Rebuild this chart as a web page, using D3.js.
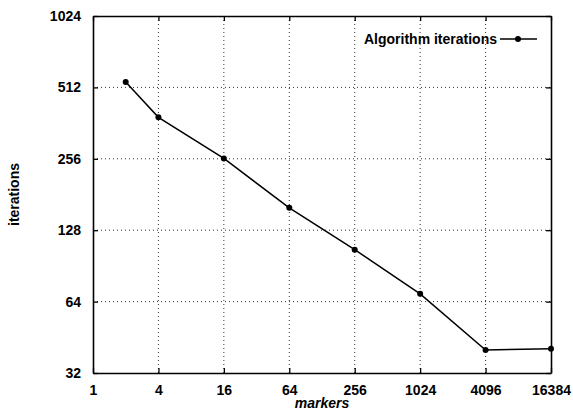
<!DOCTYPE html>
<html><head><meta charset="utf-8">
<script src="https://cdn.jsdelivr.net/npm/d3@7"></script>
<style>body{margin:0;background:#fff}svg{display:block}text{font-family:"Liberation Sans",Arial,sans-serif;fill:#000}</style>
</head><body>
<script>
const markers = [2, 4, 16, 64, 256, 1024, 4096, 16384];
const iterations = [540, 383, 257, 159, 106, 69, 40, 40.5];
const xTicks = [1, 4, 16, 64, 256, 1024, 4096, 16384];
const yTicks = [32, 64, 128, 256, 512, 1024];
const seriesName = "Algorithm iterations";

const W = 573, H = 411;
const m = {left: 93, right: 22, top: 16, bottom: 38};
const svg = d3.select("body").append("svg").attr("width", W).attr("height", H);
const x = d3.scaleLog().base(2).domain([1, 16384]).range([m.left, W - m.right]);
const y = d3.scaleLog().base(2).domain([32, 1024]).range([H - m.bottom, m.top]);
const pw = W - m.left - m.right, ph = H - m.top - m.bottom;

// grid
const g = svg.append("g");
g.selectAll(".gx").data(xTicks.slice(1, -1)).join("line")
  .attr("x1", d => x(d)).attr("x2", d => x(d)).attr("y1", m.top).attr("y2", H - m.bottom)
  .attr("stroke", "#333").attr("stroke-width", 1).attr("stroke-dasharray", "1,3");
g.selectAll(".gy").data(yTicks.slice(1, -1)).join("line")
  .attr("y1", d => y(d)).attr("y2", d => y(d)).attr("x1", m.left).attr("x2", W - m.right)
  .attr("stroke", "#333").attr("stroke-width", 1).attr("stroke-dasharray", "1,3");

// axes
const fmt = d => String(d);
const axBottom = svg.append("g").attr("transform", `translate(0,${H - m.bottom})`)
  .call(d3.axisBottom(x).tickValues(xTicks).tickFormat(fmt).tickSizeInner(-5).tickSizeOuter(0).tickPadding(15));
const axTop = svg.append("g").attr("transform", `translate(0,${m.top})`)
  .call(d3.axisTop(x).tickValues(xTicks).tickFormat("").tickSizeInner(-5).tickSizeOuter(0));
const axLeft = svg.append("g").attr("transform", `translate(${m.left},0)`)
  .call(d3.axisLeft(y).tickValues(yTicks).tickFormat(fmt).tickSizeInner(-5).tickSizeOuter(0).tickPadding(12));
const axRight = svg.append("g").attr("transform", `translate(${W - m.right},0)`)
  .call(d3.axisRight(y).tickValues(yTicks).tickFormat("").tickSizeInner(-5).tickSizeOuter(0));
[axBottom, axTop, axLeft, axRight].forEach(a => {
  a.select(".domain").attr("stroke", "#000").attr("stroke-width", 1.6);
  a.selectAll(".tick line").attr("stroke", "#000").attr("stroke-width", 1.3);
  a.selectAll("text").attr("font-size", 14).attr("font-weight", "bold").attr("fill", "#000");
});
axBottom.selectAll("text").attr("dy", "0.5em");

// axis titles
svg.append("text").attr("x", m.left + pw / 2).attr("y", 408).attr("text-anchor", "middle")
  .attr("font-size", 14).attr("font-weight", "bold").attr("font-style", "italic").text("markers");
svg.append("text").attr("transform", `translate(19,${m.top + ph / 2}) rotate(-90)`).attr("text-anchor", "middle")
  .attr("font-size", 14).attr("font-weight", "bold").text("iterations");

// series
const line = d3.line().x((d, i) => x(markers[i])).y(d => y(d));
svg.append("path").datum(iterations).attr("d", line).attr("fill", "none").attr("stroke", "#000").attr("stroke-width", 1.5);
svg.selectAll(".pt").data(iterations).join("circle")
  .attr("cx", (d, i) => x(markers[i])).attr("cy", d => y(d)).attr("r", 3).attr("fill", "#000");

// legend
svg.append("text").attr("x", 497).attr("y", 39).attr("dy", "0.35em").attr("text-anchor", "end")
  .attr("font-size", 14).attr("font-weight", "bold").text(seriesName);
svg.append("line").attr("x1", 500).attr("x2", 537).attr("y1", 39).attr("y2", 39).attr("stroke", "#000").attr("stroke-width", 1.5);
svg.append("circle").attr("cx", 518).attr("cy", 39).attr("r", 3).attr("fill", "#000");
</script>
</body></html>
